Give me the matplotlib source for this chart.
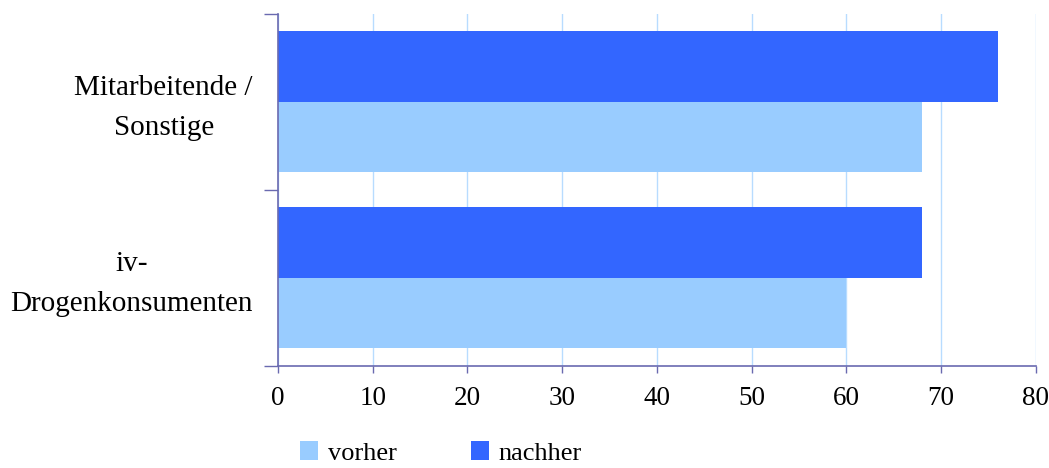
import numpy as np
import matplotlib.pyplot as plt
from matplotlib.ticker import FixedLocator

plt.rcParams['font.family'] = ['Liberation Serif', 'DejaVu Serif']
plt.rcParams['font.size'] = 19.5

# categories from bottom to top
categories = ['iv-\nDrogenkonsumenten', 'Mitarbeitende /\nSonstige']
vorher = [60, 68]
nachher = [68, 76]

col_vorher = '#99CCFF'
col_nachher = '#3366FF'
axis_col = '#6A6AB0'

fig = plt.figure(figsize=(10.49, 4.68), dpi=100)
ax = fig.add_axes([0.265, 0.219, 0.7225, 0.752])

y = np.arange(len(categories))
h = 0.4
ax.barh(y - h / 2, vorher, height=h, color=col_vorher, label='vorher', zorder=2)
ax.barh(y + h / 2, nachher, height=h, color=col_nachher, label='nachher', zorder=2)

ax.set_xlim(0, 80)
ax.set_ylim(-0.5, len(categories) - 0.5)
ax.set_xticks(np.arange(0, 81, 10))

# tick marks only at the category boundaries
ax.yaxis.set_major_locator(FixedLocator(np.arange(-0.5, len(categories), 1.0)))
ax.set_yticklabels([])

# category names, centred lines, right edge just left of the axis
for yi, name in zip(y, categories):
    ax.text(-0.033, yi - 0.038, name, transform=ax.get_yaxis_transform(),
            ha='right', va='center', multialignment='center',
            linespacing=1.68, fontsize=21)

ax.tick_params(axis='y', length=10, width=1, color=axis_col, direction='out')
ax.tick_params(axis='x', length=5, width=1, color=axis_col, direction='out', pad=10)

ax.xaxis.grid(True, color='#B8DCFF', linewidth=1, zorder=0)
ax.set_axisbelow(True)

for side in ['top', 'right']:
    ax.spines[side].set_visible(False)
for side in ['left', 'bottom']:
    ax.spines[side].set_color(axis_col)
    ax.spines[side].set_linewidth(1.2)

fig.legend(loc='center', bbox_to_anchor=(441 / 1049, 1 - 453 / 468), ncol=2,
           frameon=False, handlelength=0.69, handleheight=0.69, handletextpad=0.36,
           columnspacing=2.8, fontsize=19, borderpad=0.2)

fig.savefig('out.png', dpi=100)
